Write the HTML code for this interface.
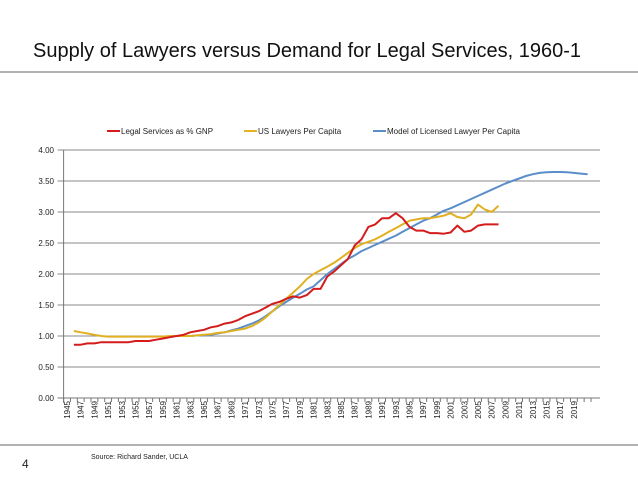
<!DOCTYPE html>
<html><head><meta charset="utf-8"><style>
body{margin:0;background:#fff;font-family:"Liberation Sans",sans-serif}
svg text{font-family:"Liberation Sans",sans-serif}
</style></head><body>
<svg width="638" height="479" xmlns="http://www.w3.org/2000/svg">
<text x="33" y="57" font-size="20" fill="#111">Supply of Lawyers versus Demand for Legal Services, 1960-1</text>
<line x1="0" y1="72" x2="638" y2="72" stroke="#666" stroke-width="1"/>
<line x1="0" y1="445" x2="638" y2="445" stroke="#666" stroke-width="1"/>
<text x="22" y="468" font-size="12" fill="#222">4</text>
<text x="91" y="459" font-size="7" fill="#222">Source: Richard Sander, UCLA</text>
<g>
<line x1="107" y1="131" x2="120" y2="131" stroke="#d41c1c" stroke-width="2"/><text x="121" y="134" font-size="8" fill="#222">Legal Services as % GNP</text>
<line x1="244" y1="131" x2="257" y2="131" stroke="#e6b020" stroke-width="2"/><text x="258" y="134" font-size="8" fill="#222">US Lawyers Per Capita</text>
<line x1="373" y1="131" x2="386" y2="131" stroke="#5b8ec9" stroke-width="2"/><text x="387" y="134" font-size="8" fill="#222">Model of Licensed Lawyer Per Capita</text>
</g>
<g id="chart"></g>
</svg>
<script>
const years=[];for(let y=1945;y<=2021;y++)years.push(y);
const yTicks=[0,0.5,1,1.5,2,2.5,3,3.5,4];
const legalStart=1946;
const legal=[.86,.86,.88,.88,.9,.9,.9,.9,.9,.92,.92,.92,.94,.96,.98,1.0,1.02,1.06,1.08,1.1,1.14,1.16,1.2,1.22,1.26,1.32,1.36,1.4,1.46,1.52,1.55,1.6,1.64,1.62,1.66,1.76,1.76,1.96,2.04,2.14,2.24,2.46,2.56,2.76,2.8,2.9,2.9,2.98,2.9,2.76,2.7,2.7,2.66,2.66,2.65,2.67,2.78,2.68,2.7,2.78,2.8,2.8,2.8];
const lawyersStart=1946;
const lawyers=[1.08,1.06,1.04,1.02,1.0,.99,.99,.99,.99,.99,.99,.99,.99,.99,1.0,1.0,1.0,1.0,1.01,1.02,1.03,1.05,1.06,1.08,1.1,1.12,1.16,1.22,1.3,1.4,1.5,1.6,1.7,1.8,1.92,2.0,2.06,2.12,2.18,2.26,2.34,2.42,2.48,2.52,2.56,2.62,2.68,2.74,2.8,2.86,2.88,2.9,2.9,2.92,2.94,2.98,2.92,2.9,2.96,3.12,3.04,3.0,3.1];
const modelStart=1961;
const model=[1.0,1.0,1.0,1.01,1.01,1.02,1.04,1.06,1.09,1.12,1.16,1.2,1.25,1.32,1.4,1.48,1.55,1.62,1.68,1.75,1.8,1.9,2.0,2.08,2.16,2.24,2.3,2.37,2.42,2.47,2.52,2.57,2.62,2.68,2.74,2.8,2.86,2.9,2.96,3.02,3.06,3.11,3.16,3.21,3.26,3.31,3.36,3.41,3.46,3.5,3.54,3.58,3.61,3.63,3.64,3.645,3.645,3.64,3.63,3.62,3.61];
const L=63.6,R=591,T=150,B=398,bw=(R-L)/years.length;
const xs=yr=>L+(yr-1945+0.5)*bw, ys=v=>B-(v/4)*(B-T);
const g=document.getElementById('chart'),NS='http://www.w3.org/2000/svg';
function mk(t,a){const e=document.createElementNS(NS,t);for(const k in a)e.setAttribute(k,a[k]);g.appendChild(e);return e;}
yTicks.forEach(v=>{
 const l=mk('line',{x1:L-6,x2:600,y1:ys(v),y2:ys(v),stroke:v===0?'#777':'#888','stroke-width':1});
 
 
 const t=mk('text',{x:54,y:ys(v)+3,'font-size':8,'text-anchor':'end',fill:'#222'});t.textContent=v.toFixed(2);
 
 
});
const ax=mk('line',{x1:L,x2:L,y1:T,y2:B+5,stroke:'#777'});


const xa=mk('line',{x1:L,x2:R,y1:B,y2:B,stroke:'#777'});


for(let i=0;i<=years.length;i++){const tk=mk('line',{x1:L+i*bw,x2:L+i*bw,y1:B,y2:B+4,stroke:'#777'});}
years.forEach((yr,i)=>{if(i%2||yr>2019)return;const x=xs(yr);
 const t=mk('text',{x:0,y:0,'font-size':8,'text-anchor':'end',fill:'#222',transform:`translate(${x+3},${B+3}) rotate(-90)`});t.textContent=yr;
 
 
});
function series(vals,start,col,name){
 const pts=vals.map((v,i)=>xs(start+i).toFixed(1)+','+ys(v).toFixed(1)).join(' ');
 const p=mk('polyline',{points:pts,fill:'none',stroke:col,'stroke-width':2,'stroke-linejoin':'round'});
 
 
}
series(model,modelStart,'#5b8ec9','model-licensed-lawyer-line');
series(lawyers,lawyersStart,'#e0b020','us-lawyers-line');
series(legal,legalStart,'#d41c1c','legal-services-line');
</script>
</body></html>
